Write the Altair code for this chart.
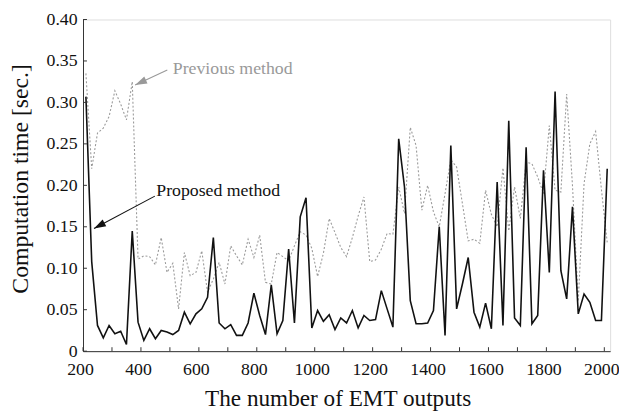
import altair as alt
import pandas as pd

# ---- data ----
x_start = 210
x_step = 20
proposed = [0.307, 0.108, 0.031, 0.016, 0.031, 0.021, 0.024, 0.008, 0.145, 0.035,
            0.013, 0.027, 0.015, 0.025, 0.023, 0.020, 0.025, 0.047, 0.033, 0.045,
            0.051, 0.065, 0.137, 0.034, 0.027, 0.032, 0.019, 0.019, 0.034, 0.070,
            0.043, 0.020, 0.080, 0.021, 0.037, 0.123, 0.034, 0.162, 0.185, 0.028,
            0.049, 0.036, 0.044, 0.026, 0.040, 0.034, 0.049, 0.028, 0.043, 0.037,
            0.038, 0.073, 0.051, 0.029, 0.256, 0.198, 0.061, 0.033, 0.033, 0.034,
            0.049, 0.150, 0.019, 0.248, 0.051, 0.081, 0.113, 0.047, 0.029, 0.058,
            0.027, 0.204, 0.031, 0.278, 0.040, 0.031, 0.246, 0.033, 0.043, 0.218,
            0.095, 0.313, 0.097, 0.063, 0.174, 0.045, 0.069, 0.059, 0.037, 0.037,
            0.220]
previous = [0.335, 0.220, 0.263, 0.269, 0.283, 0.314, 0.298, 0.279, 0.325, 0.111,
            0.115, 0.114, 0.104, 0.137, 0.095, 0.106, 0.051, 0.119, 0.091, 0.095,
            0.121, 0.071, 0.087, 0.107, 0.081, 0.127, 0.115, 0.104, 0.135, 0.113,
            0.140, 0.083, 0.081, 0.119, 0.114, 0.109, 0.127, 0.144, 0.140, 0.124,
            0.090, 0.118, 0.160, 0.143, 0.125, 0.114, 0.137, 0.163, 0.186, 0.108,
            0.110, 0.123, 0.142, 0.141, 0.198, 0.166, 0.270, 0.248, 0.170, 0.200,
            0.168, 0.150, 0.190, 0.231, 0.222, 0.178, 0.133, 0.135, 0.130, 0.194,
            0.165, 0.150, 0.221, 0.145, 0.198, 0.160, 0.228, 0.226, 0.210, 0.190,
            0.272, 0.194, 0.192, 0.310, 0.200, 0.060, 0.202, 0.250, 0.265, 0.195,
            0.131]
x_vals = [x_start + x_step * i for i in range(len(proposed))]

x_tick_values = list(range(200, 2001, 100))
x_label_values = list(range(200, 2001, 200))
y_tick_values = [0, 0.05, 0.10, 0.15, 0.20, 0.25, 0.30, 0.35, 0.40]

ann_labels = ["Previous method", "Proposed method"]
ann_text_x = [510, 453]
ann_text_y = [0.340, 0.193]
ann_tail_x = [491, 448]
ann_tail_y = [0.339, 0.187]
ann_tip_x = [380, 238]
ann_tip_y = [0.321, 0.148]
ann_angle = [245.3, 241.6]
ann_color = ["#999999", "#111111"]

FONT = "Liberation Serif"
W, H = 534, 336

df = pd.DataFrame({"n": x_vals, "Proposed": proposed, "Previous": previous})
ann = pd.DataFrame({"label": ann_labels, "tx": ann_text_x, "ty": ann_text_y,
                    "x1": ann_tail_x, "y1": ann_tail_y, "x2": ann_tip_x, "y2": ann_tip_y,
                    "ang": ann_angle, "col": ann_color})

xs = alt.Scale(domain=[200, 2020], nice=False, zero=False)
ys = alt.Scale(domain=[0, 0.4], nice=False)

x_axis = alt.Axis(values=x_label_values, format="d", ticks=False, grid=False,
                  labelFont=FONT, labelFontSize=18, labelColor="#111", labelPadding=10,
                  labelFlush=False, labelOffset=-3, labelOverlap=False,
                  domainColor="#333", domainWidth=1,
                  title="The number of EMT outputs", titleFont=FONT, titleFontSize=23.5,
                  titleFontWeight="normal", titleColor="#111", titleX=258, titleY=55,
                  titleAlign="center", titleBaseline="alphabetic")
y_axis = alt.Axis(values=y_tick_values, ticks=False, grid=False,
                  labelExpr="datum.value == 0 ? '0' : format(datum.value, '.2f')",
                  labelFont=FONT, labelFontSize=18, labelColor="#111", labelPadding=6,
                  labelFlush=False, labelOverlap=False,
                  domainColor="#333", domainWidth=1,
                  title="Computation time [sec.]", titleFont=FONT, titleFontSize=24,
                  titleFontWeight="normal", titleColor="#111", titleX=-56, titleY=161,
                  titleAngle=-90, titleBaseline="alphabetic", titleAlign="center")

base = alt.Chart(df)
prev_line = base.mark_line(color="#9a9a9a", strokeWidth=1.1, strokeDash=[2, 2]).encode(
    x=alt.X("n:Q", scale=xs, axis=x_axis),
    y=alt.Y("Previous:Q", scale=ys, axis=y_axis),
)
prop_line = base.mark_line(color="#111111", strokeWidth=1.6).encode(
    x=alt.X("n:Q", scale=xs, axis=x_axis),
    y=alt.Y("Proposed:Q", scale=ys, axis=y_axis),
)

yt = alt.Chart(pd.DataFrame({"v": y_tick_values})).mark_rule(color="#333", strokeWidth=1).encode(
    y=alt.Y("v:Q", scale=ys, axis=y_axis), x=alt.value(0), x2=alt.value(4))
xt = alt.Chart(pd.DataFrame({"v": x_tick_values})).mark_rule(color="#333", strokeWidth=1).encode(
    x=alt.X("v:Q", scale=xs, axis=x_axis), y=alt.value(H), y2=alt.value(H - 4))

ann_base = alt.Chart(ann)
ann_text = ann_base.mark_text(font=FONT, fontSize=18, align="left", baseline="middle").encode(
    x=alt.X("tx:Q", scale=xs, axis=x_axis), y=alt.Y("ty:Q", scale=ys, axis=y_axis),
    text="label:N", color=alt.Color("col:N", scale=None))
ann_line = ann_base.mark_rule(strokeWidth=1.1).encode(
    x=alt.X("x1:Q", scale=xs, axis=x_axis), y=alt.Y("y1:Q", scale=ys, axis=y_axis),
    x2="x2:Q", y2="y2:Q", color=alt.Color("col:N", scale=None))
ann_head = ann_base.mark_point(shape="M0,0L-0.65,2L0.65,2Z", filled=True, size=144,
                               opacity=1, strokeWidth=0).encode(
    x=alt.X("x2:Q", scale=xs, axis=x_axis), y=alt.Y("y2:Q", scale=ys, axis=y_axis),
    angle=alt.Angle("ang:Q", scale=None), color=alt.Color("col:N", scale=None))

chart = alt.layer(prev_line, prop_line, yt, xt, ann_line, ann_head, ann_text).properties(
    width=W, height=H,
    autosize=alt.AutoSizeParams(type="none"),
    padding={"left": 76, "top": 9, "right": 9, "bottom": 60},
).configure_view(stroke=None).configure(background="white").configure_axis(
    labelFont=FONT, titleFont=FONT)

chart.save("out.html", embed_options={"renderer": "svg", "actions": False})
